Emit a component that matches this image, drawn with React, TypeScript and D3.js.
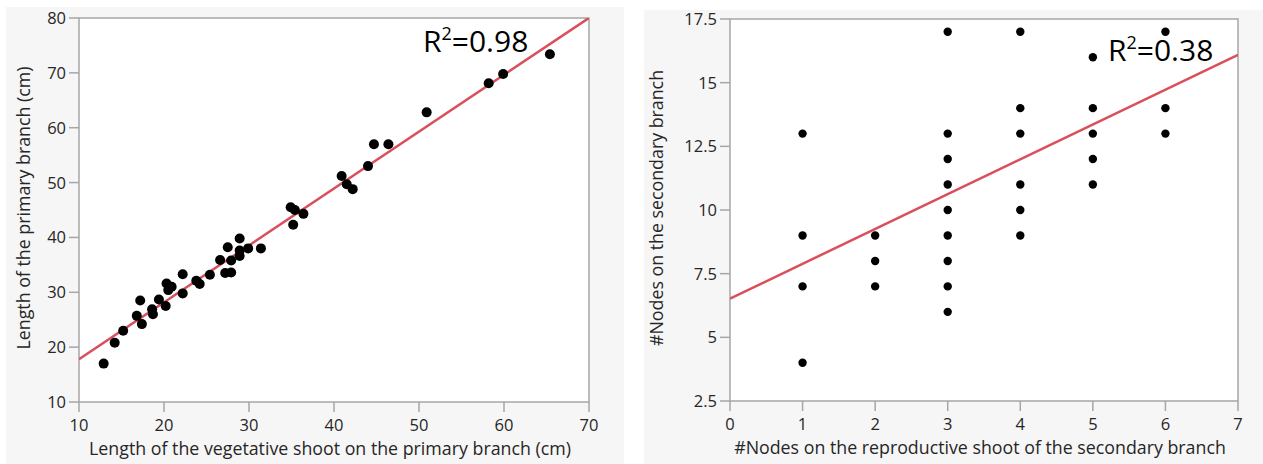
import React from 'react';
import * as d3 from 'd3';

// left panel: vegetative shoot length vs primary branch length (cm)
const shootLen = [
  12.9, 14.2, 15.2, 16.8, 17.2, 17.4, 18.6, 18.7, 19.4, 20.2, 20.3, 20.5, 20.9,
  22.2, 22.2, 23.8, 24.2, 25.4, 26.6, 27.2, 27.5, 27.9, 27.9, 28.9, 28.9, 28.9,
  29.9, 31.4, 34.9, 35.2, 35.4, 36.4, 40.9, 41.5, 42.2, 44.0, 44.7, 46.4, 50.9,
  58.2, 59.9, 65.4,
];
const primaryLen = [
  17.0, 20.8, 23.0, 25.7, 28.5, 24.2, 26.9, 26.0, 28.7, 27.5, 31.6, 30.4, 31.0,
  33.3, 29.8, 32.1, 31.5, 33.2, 35.9, 33.5, 38.2, 35.8, 33.6, 39.8, 37.6, 36.6,
  38.0, 38.0, 45.5, 42.3, 45.0, 44.3, 51.2, 49.7, 48.8, 53.0, 57.0, 57.0, 62.8,
  68.1, 69.8, 73.4,
];
// fitted line
const fitLeft = {slope: 1.037, intercept: 7.43, r2: '0.98'};

// right panel: nodes on reproductive shoot vs nodes on secondary branch
const nodesRepro = [
  1, 1, 1, 1,
  2, 2, 2,
  3, 3, 3, 3, 3, 3, 3, 3, 3,
  4, 4, 4, 4, 4, 4,
  5, 5, 5, 5, 5,
  6, 6, 6,
];
const nodesSecondary = [
  13, 9, 7, 4,
  9, 8, 7,
  17, 13, 12, 11, 10, 9, 8, 7, 6,
  17, 14, 13, 11, 10, 9,
  16, 14, 13, 12, 11,
  17, 14, 13,
];
const fitRight = {slope: 1.367, intercept: 6.52, r2: '0.38'};

const leftXTicks = [10, 20, 30, 40, 50, 60, 70];
const leftYTicks = [10, 20, 30, 40, 50, 60, 70, 80];
const rightXTicks = [0, 1, 2, 3, 4, 5, 6, 7];
const rightYTicks = [2.5, 5, 7.5, 10, 12.5, 15, 17.5];

const FONT = '"Open Sans", "Noto Sans", sans-serif';
const AXIS = '#a6a6a6';
const TEXT = '#262626';
const RED = '#d9505c';

type PanelProps = {
  bg: [number, number, number, number];
  plot: {x0: number; x1: number; y0: number; y1: number};
  xDomain: [number, number];
  yDomain: [number, number];
  xTicks: number[];
  yTicks: number[];
  xs: number[];
  ys: number[];
  fit: {slope: number; intercept: number; r2: string};
  r: number;
  xTitle: string;
  yTitle: string;
  yTitleX: number;
  r2Pos: [number, number];
};

const Panel = ({bg, plot, xDomain, yDomain, xTicks, yTicks, xs, ys, fit, r, xTitle, yTitle, yTitleX, r2Pos}: PanelProps) => {
  const x = d3.scaleLinear().domain(xDomain).range([plot.x0, plot.x1]);
  const y = d3.scaleLinear().domain(yDomain).range([plot.y1, plot.y0]);
  const fx = (v: number) => fit.intercept + fit.slope * v;
  const line = d3.line<number>().x(d => x(d)).y(d => y(fx(d)));
  const clipId = `clip-${plot.x0}`;
  const fmt = (v: number) => String(v);

  return (
    <g>
      <rect x={bg[0]} y={bg[1]} width={bg[2] - bg[0]} height={bg[3] - bg[1]} fill="#f6f6f6" />
      <rect x={plot.x0} y={plot.y0} width={plot.x1 - plot.x0} height={plot.y1 - plot.y0} fill="#fff" stroke={AXIS} strokeWidth={1.5} />
      <clipPath id={clipId}>
        <rect x={plot.x0} y={plot.y0} width={plot.x1 - plot.x0} height={plot.y1 - plot.y0} />
      </clipPath>

      {/* x ticks */}
      {xTicks.map(t => (
        <g key={'x' + t}>
          <line x1={x(t)} x2={x(t)} y1={plot.y1} y2={plot.y1 + 10} stroke={AXIS} strokeWidth={1.5} />
          <text x={x(t)} y={plot.y1 + 29} textAnchor="middle" fontSize={16.5} fill={TEXT} fontFamily={FONT}>{fmt(t)}</text>
        </g>
      ))}
      {/* y ticks */}
      {yTicks.map(t => (
        <g key={'y' + t}>
          <line x1={plot.x0 - 10} x2={plot.x0} y1={y(t)} y2={y(t)} stroke={AXIS} strokeWidth={1.5} />
          <text x={plot.x0 - 13} y={y(t) + 6} textAnchor="end" fontSize={16.5} fill={TEXT} fontFamily={FONT}>{fmt(t)}</text>
        </g>
      ))}

      <g clipPath={`url(#${clipId})`}>
        <path d={line(xDomain) || ''} fill="none" stroke={RED} strokeWidth={2.5} />
        {xs.map((v, i) => (
          <circle key={i} cx={x(v)} cy={y(ys[i])} r={r} fill="#000" />
        ))}
      </g>

      <text x={r2Pos[0]} y={r2Pos[1]} fontSize={30} fill="#000" fontFamily={FONT}>
        R<tspan fontSize={18} dy={-12}>2</tspan><tspan dy={12}>={fit.r2}</tspan>
      </text>

      <text x={(plot.x0 + plot.x1) / 2 - 4} y={plot.y1 + 53} textAnchor="middle" fontSize={17.8} fill={TEXT} fontFamily={FONT}>{xTitle}</text>
      <text transform={`translate(${yTitleX},${(plot.y0 + plot.y1) / 2 - 2}) rotate(-90)`} textAnchor="middle" fontSize={17.8} fill={TEXT} fontFamily={FONT}>{yTitle}</text>
    </g>
  );
};

export default function App() {
  return (
    <svg width={1263} height={464} style={{position: 'absolute', left: 0, top: 0, background: '#fff'}}>
      <Panel
        bg={[6, 7, 624, 464]}
        plot={{x0: 79, x1: 589, y0: 18, y1: 402}}
        xDomain={[10, 70]}
        yDomain={[10, 80]}
        xTicks={leftXTicks}
        yTicks={leftYTicks}
        xs={shootLen}
        ys={primaryLen}
        fit={fitLeft}
        r={5}
        xTitle="Length of the vegetative shoot on the primary branch (cm)"
        yTitle="Length of the primary branch (cm)"
        yTitleX={30}
        r2Pos={[423, 52]}
      />
      <Panel
        bg={[644, 10, 1263, 464]}
        plot={{x0: 730, x1: 1238, y0: 19, y1: 401}}
        xDomain={[0, 7]}
        yDomain={[2.5, 17.5]}
        xTicks={rightXTicks}
        yTicks={rightYTicks}
        xs={nodesRepro}
        ys={nodesSecondary}
        fit={fitRight}
        r={4.2}
        xTitle="#Nodes on the reproductive shoot of the secondary branch"
        yTitle="#Nodes on the secondary branch"
        yTitleX={663}
        r2Pos={[1108, 61]}
      />
    </svg>
  );
}
